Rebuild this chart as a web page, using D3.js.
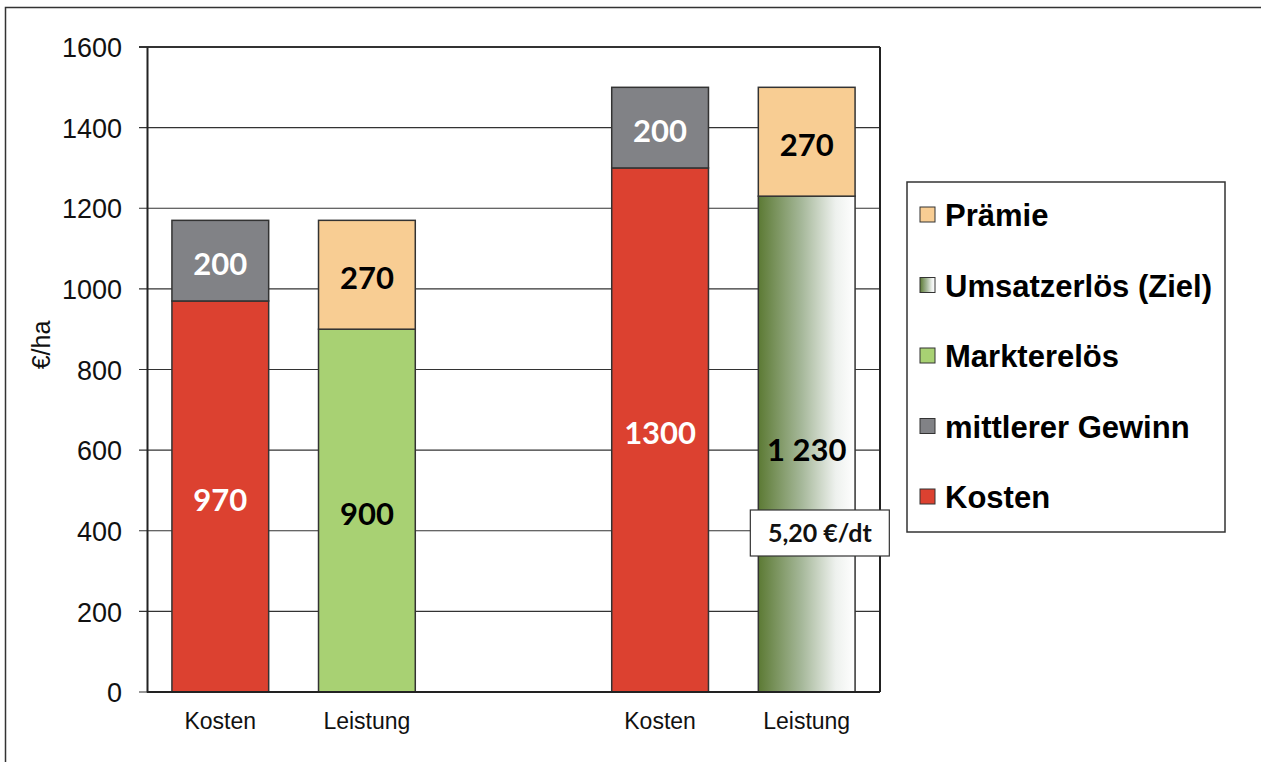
<!DOCTYPE html>
<html lang="de">
  <head>
    <meta charset="utf-8" />
    <title>Kosten und Leistung</title>
    <script src="https://d3js.org/d3.v7.min.js"></script>
    <style type="text/css">
      body { margin: 0; background: #fff; }
      svg { display: block; }
    </style>
  </head>
  <body>
    <svg id="chart" width="1261" height="762"></svg>
    <script type="text/javascript">
      // x slots, the middle one stays empty as a gap between the two groups
      const slots = ["k1", "l1", "gap", "k2", "l2"];
      const slotLabels = ["Kosten", "Leistung", "", "Kosten", "Leistung"];
      // stack segments per bar, bottom to top
      const kosten    = { k1: 970, l1: 0,   k2: 1300, l2: 0 };
      const markt     = { k1: 0,   l1: 900, k2: 0,    l2: 0 };
      const umsatz    = { k1: 0,   l1: 0,   k2: 0,    l2: 1230 };
      const gewinn    = { k1: 200, l1: 0,   k2: 200,  l2: 0 };
      const praemie   = { k1: 0,   l1: 270, k2: 0,    l2: 270 };
      const seriesNames = ["Kosten", "Markterelös", "Umsatzerlös (Ziel)", "mittlerer Gewinn", "Prämie"];
      const legendOrder = ["Prämie", "Umsatzerlös (Ziel)", "Markterelös", "mittlerer Gewinn", "Kosten"];
      const valueLabels = { k1: ["970", "200"], l1: ["900", "270"], k2: ["1300", "200"], l2: ["1 230", "270"] };
      const priceNote = "5,20 €/dt";
      const yTicks = [0, 200, 400, 600, 800, 1000, 1200, 1400, 1600];

      const svg = d3.select("#chart");
      const sans = "'Liberation Sans', Arial, sans-serif";

      // outer frame
      svg.append("rect").attr("x", 5.5).attr("y", 7.5).attr("width", 1300).attr("height", 800)
        .attr("fill", "none").attr("stroke", "#333").attr("stroke-width", 1.5);

      const pl = 147, pr = 880, pt = 47, pb = 692;
      const x = d3.scaleBand().domain(slots).range([pl, pr]).paddingInner(0.34).paddingOuter(0.17);
      const y = d3.scaleLinear().domain([0, 1600]).range([pb, pt]);

      const defs = svg.append("defs");
      const grad = defs.append("linearGradient").attr("id", "ziel").attr("x1", "0%").attr("x2", "100%");
      grad.append("stop").attr("offset", "0%").attr("stop-color", "#5c7a34");
      grad.append("stop").attr("offset", "45%").attr("stop-color", "#a6b89a");
      grad.append("stop").attr("offset", "80%").attr("stop-color", "#eef1ee");
      grad.append("stop").attr("offset", "100%").attr("stop-color", "#ffffff");

      const colors = {
        "Kosten": "#dc4130",
        "Markterelös": "#a8d173",
        "Umsatzerlös (Ziel)": "url(#ziel)",
        "mittlerer Gewinn": "#818286",
        "Prämie": "#f8cd93"
      };
      const textColors = { "Kosten": "#fff", "mittlerer Gewinn": "#fff", "Markterelös": "#000", "Umsatzerlös (Ziel)": "#000", "Prämie": "#000" };

      // gridlines
      svg.append("g").selectAll("line").data(yTicks).join("line")
        .attr("x1", pl - 8).attr("x2", pr)
        .attr("y1", d => y(d)).attr("y2", d => y(d))
        .attr("stroke", "#333").attr("stroke-width", d => d === 1600 ? 2 : 1.2);

      // y axis
      const yAxis = svg.append("g").attr("transform", `translate(${pl},0)`)
        .call(d3.axisLeft(y).tickValues(yTicks).tickSize(0).tickPadding(25).tickFormat(d3.format("d")));
      yAxis.select(".domain").attr("stroke", "#222").attr("stroke-width", 2);
      yAxis.selectAll("text").attr("font-family", sans)
        .attr("font-size", 27).attr("fill", "#111").attr("dy", "0.36em");

      // right frame line
      svg.append("line").attr("x1", pr).attr("x2", pr).attr("y1", pt).attr("y2", pb)
        .attr("stroke", "#222").attr("stroke-width", 2);

      svg.append("text").attr("transform", "translate(50,345) rotate(-90)")
        .attr("text-anchor", "middle").attr("font-family", sans)
        .attr("font-size", 25).attr("fill", "#111").text("€/ha");

      // stacked data
      const bars = ["k1", "l1", "k2", "l2"];
      const table = bars.map(b => ({
        slot: b,
        "Kosten": kosten[b], "Markterelös": markt[b], "Umsatzerlös (Ziel)": umsatz[b],
        "mittlerer Gewinn": gewinn[b], "Prämie": praemie[b]
      }));
      const stacked = d3.stack().keys(seriesNames)(table);

      const segs = [];
      stacked.forEach(s => s.forEach(d => {
        if (d[1] - d[0] > 0) segs.push({ key: s.key, slot: d.data.slot, y0: d[0], y1: d[1] });
      }));

      svg.append("g").selectAll("rect").data(segs).join("rect")
        .attr("x", d => x(d.slot)).attr("width", x.bandwidth())
        .attr("y", d => y(d.y1)).attr("height", d => y(d.y0) - y(d.y1))
        .attr("fill", d => colors[d.key]).attr("stroke", "#333").attr("stroke-width", 1.5);

      // x baseline
      svg.append("line").attr("x1", pl).attr("x2", pr).attr("y1", pb).attr("y2", pb)
        .attr("stroke", "#222").attr("stroke-width", 2);

      // value labels in segments
      svg.append("g").selectAll("text").data(segs).join("text")
        .attr("x", d => x(d.slot) + x.bandwidth() / 2)
        .attr("y", d => y((d.y0 + d.y1) / 2) + (d.key === "Umsatzerlös (Ziel)" ? 6 : 3))
        .attr("dy", "0.36em").attr("text-anchor", "middle")
        .attr("font-family", "Lato, 'Open Sans', sans-serif").attr("font-weight", "bold")
        .attr("font-size", 31).attr("fill", d => textColors[d.key])
        .text(d => valueLabels[d.slot][d.y0 === 0 ? 0 : 1]);

      // price note box on the target bar
      const nx = x("l2") - 8, ny = 510;
      svg.append("rect").attr("x", nx).attr("y", ny).attr("width", 139).attr("height", 46)
        .attr("fill", "#fff").attr("stroke", "#333").attr("stroke-width", 1.2);
      svg.append("text").attr("x", nx + 69.5).attr("y", ny + 23).attr("dy", "0.36em")
        .attr("text-anchor", "middle").attr("font-family", "Lato, 'Open Sans', sans-serif")
        .attr("font-weight", "bold").attr("font-size", 25).attr("fill", "#111").text(priceNote);

      // category labels
      svg.append("g").selectAll("text").data(slots).join("text")
        .attr("x", d => x(d) + x.bandwidth() / 2).attr("y", 729)
        .attr("text-anchor", "middle").attr("font-family", sans)
        .attr("font-size", 23).attr("fill", "#111")
        .text((d, i) => slotLabels[i]);

      // legend
      const lg = svg.append("g");
      lg.append("rect").attr("x", 907).attr("y", 182).attr("width", 318).attr("height", 350)
        .attr("fill", "#fff").attr("stroke", "#333").attr("stroke-width", 1.5);
      const item = lg.selectAll("g.item").data(legendOrder).join("g")
        .attr("transform", (d, i) => `translate(920,${215 + i * 70.5})`);
      item.append("rect").attr("x", 0).attr("y", -8).attr("width", 15).attr("height", 15)
        .attr("fill", d => colors[d]).attr("stroke", "#333").attr("stroke-width", 1);
      item.append("text").attr("x", 25).attr("y", 0).attr("dy", "0.36em")
        .attr("font-family", sans).attr("font-weight", "bold")
        .attr("font-size", 31).attr("fill", "#000").text(d => d);
    </script>
  </body>
</html>
